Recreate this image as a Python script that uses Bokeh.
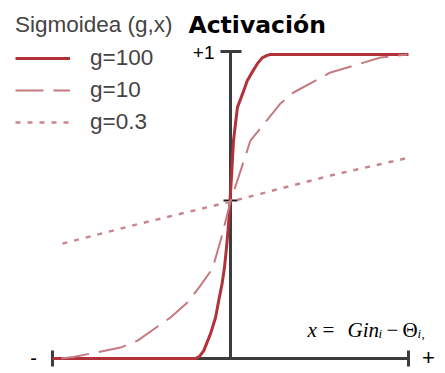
from bokeh.plotting import figure
from bokeh.models import Label, Legend, LegendItem
from bokeh.embed import file_html
from bokeh.resources import INLINE

# Sigmoid activation curves for three gains, x normalised to [-1, 1]
g100_x = [-1.0, -0.197, -0.175, -0.150, -0.112, -0.084, -0.066, -0.047, -0.034, -0.024, -0.011,
          -0.003, 0.006, 0.017, 0.039, 0.075, 0.094, 0.122, 0.150, 0.178, 0.206, 0.225, 1.0]
g100_y = [0.0, 0.0, 0.006, 0.026, 0.082, 0.135, 0.191, 0.247, 0.299, 0.355, 0.44,
          0.516, 0.602, 0.717, 0.826, 0.882, 0.914, 0.942, 0.969, 0.989, 0.997, 1.0, 1.0]

g10_x = [-0.95, -0.882, -0.618, -0.522, -0.337, -0.242, -0.169, -0.101, -0.05, 0.0,
         0.112, 0.281, 0.354, 0.562, 0.657, 0.843, 0.994]
g10_y = [0.0, 0.005, 0.036, 0.059, 0.135, 0.184, 0.240, 0.296, 0.40, 0.516,
         0.717, 0.839, 0.875, 0.941, 0.957, 0.990, 1.0]

g03_x = [-0.944, -0.506, 0.0, 0.562, 0.983]
g03_y = [0.378, 0.444, 0.516, 0.602, 0.658]

labels = ["g=100", "g=10", "g=0.3"]

W, H = 445, 373
X0, X1 = -1.2921, 1.2079
Y0, Y1 = -0.0493, 1.1776

p = figure(width=W, height=H, x_range=(X0, X1), y_range=(Y0, Y1),
           output_backend="svg", toolbar_location=None, min_border=0)
p.axis.visible = False
p.grid.visible = False
p.outline_line_color = None
p.background_fill_color = "white"
p.border_fill_color = "white"

px_x = (X1 - X0) / W
px_y = (Y1 - Y0) / H

axis_col = "#3c3c3c"
# axes: vertical activation axis and horizontal input axis
p.segment(x0=[0], y0=[0], x1=[0], y1=[1.013], line_color=axis_col, line_width=3)
p.segment(x0=[-1], y0=[0], x1=[1], y1=[0], line_color=axis_col, line_width=3)
# end ticks
p.segment(x0=[-10 * px_x, -1, 1], y0=[1.01, -8 * px_y, -8 * px_y],
          x1=[11 * px_x, -1, 1], y1=[1.01, 8 * px_y, 8 * px_y],
          line_color=axis_col, line_width=3)
p.segment(x0=[-7 * px_x], y0=[0.52], x1=[7 * px_x], y1=[0.52],
          line_color="#222222", line_width=2)

r100 = p.line(g100_x, g100_y, line_color="#b3323a", line_width=3, line_join="round")
r10 = p.line(g10_x, g10_y, line_color="#c47a80", line_width=2, line_dash="28 10")
r03 = p.line(g03_x, g03_y, line_color="#c9858b", line_width=2.5, line_dash="5 7")

legend = Legend(items=[LegendItem(label=labels[0], renderers=[r100]),
                       LegendItem(label=labels[1], renderers=[r10]),
                       LegendItem(label=labels[2], renderers=[r03])],
                location=(15, 237), title="Sigmoidea (g,x)",
                title_text_font="Liberation Sans", title_text_font_size="22.5px",
                title_text_font_style="normal", title_standoff=6,
                label_text_font="Liberation Sans", label_text_font_size="22.5px",
                glyph_width=55, glyph_height=28, label_standoff=20, spacing=4,
                padding=0, margin=0, border_line_alpha=0, background_fill_alpha=0)
p.add_layout(legend, "center")

def lab(text, x, y, size, font="Liberation Sans", style="normal", align="left", base="alphabetic"):
    p.add_layout(Label(x=x, y=y, x_units="screen", y_units="screen", text=text,
                       text_font=font, text_font_size=size, text_font_style=style,
                       text_align=align, text_baseline=base, text_color="black"))

lab("Activación", 188, H - 24, "23.5px", font="DejaVu Sans", style="bold")
lab("+1", 214, H - 52, "19px", align="right")
lab("-", 33, H - 357, "20px", align="center", base="middle")
lab("+", 428, H - 357, "22px", align="center", base="middle")

# x = Gin_i - Theta_i,
serif = "Liberation Serif"
lab("x", 307, H - 329, "21px", font=serif, style="italic")
lab("=", 322, H - 329, "21px", font=serif)
lab("Gin", 347, H - 329, "21px", font=serif, style="italic")
lab("i", 378, H - 333, "13px", font=serif, style="italic")
lab("\u2212", 386, H - 329, "21px", font=serif)
lab("\u0398", 402, H - 329, "21px", font=serif)
lab("i", 417, H - 333, "13px", font=serif, style="italic")
lab(",", 421, H - 333, "13px", font=serif)

open("out.html", "w").write(file_html(p, INLINE))
